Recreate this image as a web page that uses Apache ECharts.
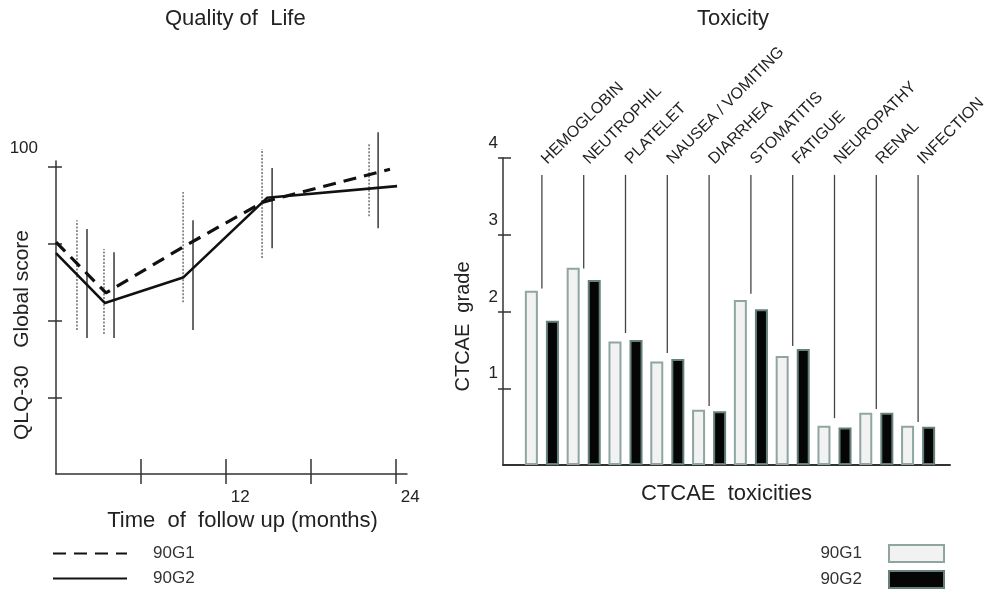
<!DOCTYPE html>
<html lang="en">
<head>
<meta charset="UTF-8">
<title>Quality of Life and Toxicity</title>
<script src="https://cdn.jsdelivr.net/npm/echarts@6/dist/echarts.min.js"></script>
<style>
  html, body { margin: 0; padding: 0; background: #fff; }
  #main { width: 985px; height: 590px; }
</style>
</head>
<body>
<div id="main"></div>
<script>
// Quality of life, global score: [month, score]
const qolG1 = [[0, 75.6], [3.53, 59], [8.98, 74], [14.63, 88.6], [23.6, 99.3]];
const qolG2 = [[0, 72], [3.46, 55.7], [8.98, 64], [14.91, 90], [24.1, 93.8]];
// error bars: [month, low, high]
const errG1 = [[1.48, 46.9, 82.7], [3.39, 45.6, 73.3], [8.98, 56.0, 91.9], [14.56, 70.4, 105.9], [22.12, 84.0, 107.5]];
const errG2 = [[2.19, 44.3, 79.8], [4.10, 44.3, 72.3], [9.68, 46.9, 82.7], [15.27, 73.6, 99.7], [22.76, 80.1, 111.4]];
const qolTicks = [6, 12, 18, 24];
const qolTickLabels = [12, 24];
const scoreTicks = [25, 50, 75, 100];
const scoreLabels = [100];

// Toxicity, CTCAE grade
const toxNames = ['HEMOGLOBIN', 'NEUTROPHIL', 'PLATELET', 'NAUSEA / VOMITING', 'DIARRHEA',
  'STOMATITIS', 'FATIGUE', 'NEUROPATHY', 'RENAL', 'INFECTION'];
const toxG1 = [2.27, 2.57, 1.61, 1.35, 0.72, 2.15, 1.42, 0.51, 0.68, 0.51];
const toxG2 = [1.88, 2.41, 1.63, 1.38, 0.70, 2.03, 1.51, 0.49, 0.68, 0.50];
const leaderEnd = [2.30, 2.56, 1.72, 1.46, 0.77, 2.23, 1.55, 0.61, 0.73, 0.56];
const gradeTicks = [1, 2, 3, 4];

const FONT = 'Liberation Sans, Arial, sans-serif';
const AX = '#333';
const LEADER_TOP = 3.78;
const LABEL_BASE = 3.88;

function errorBars(data, dotted) {
  return {
    type: 'custom',
    xAxisIndex: 0,
    yAxisIndex: 0,
    silent: true,
    z: 2,
    data: data,
    renderItem: function (params, api) {
      const lo = api.coord([api.value(0), api.value(1)]);
      const hi = api.coord([api.value(0), api.value(2)]);
      return {
        type: 'line',
        shape: { x1: lo[0], y1: lo[1], x2: hi[0], y2: hi[1] },
        style: {
          stroke: dotted ? '#666' : '#444',
          lineWidth: dotted ? 1.4 : 1.6,
          lineDash: dotted ? [2, 1.5] : null
        }
      };
    }
  };
}

const option = {
  animation: false,
  backgroundColor: '#fff',
  textStyle: { fontFamily: FONT },
  title: [
    { text: 'Quality of  Life', left: 160, top: 3,
      textStyle: { fontSize: 22, fontWeight: 'normal', color: '#222', fontFamily: FONT } },
    { text: 'Toxicity', left: 692, top: 3,
      textStyle: { fontSize: 22, fontWeight: 'normal', color: '#222', fontFamily: FONT } }
  ],
  legend: [
    {
      left: 52, top: 545, height: 60, orient: 'vertical', padding: 0,
      itemWidth: 74, itemHeight: 14, itemGap: 8,
      selectedMode: false,
      data: ['QoL 90G1', 'QoL 90G2'],
      formatter: n => n.split(' ')[1],
      itemStyle: { opacity: 0 },
      lineStyle: { width: 2 },
      textStyle: { fontSize: 17, color: '#333', padding: [0, 0, 0, 21], fontFamily: FONT }
    },
    {
      right: 40, top: 544, height: 60, orient: 'vertical', align: 'right', padding: 0,
      icon: 'rect', itemWidth: 55, itemHeight: 17, itemGap: 7,
      selectedMode: false,
      data: ['Tox 90G1', 'Tox 90G2'],
      formatter: n => n.split(' ')[1],
      textStyle: { fontSize: 17, color: '#333', padding: [0, 22, 0, 0], fontFamily: FONT }
    }
  ],
  grid: [
    { left: 56, top: 161, width: 351, height: 313, outerBoundsMode: 'none' },
    { left: 503, top: 158, width: 447, height: 307, outerBoundsMode: 'none' },
    { left: 521, top: 158, width: 418, height: 307, outerBoundsMode: 'none' }
  ],
  xAxis: [
    {
      gridIndex: 0, type: 'value', min: 0, max: 24.8, interval: 6, offset: 3, position: 'bottom',
      axisLine: { show: true, lineStyle: { color: AX, width: 1.5 } },
      axisTick: { show: true, length: 10, customValues: qolTicks, lineStyle: { color: AX, width: 1.5 } },
      axisLabel: { customValues: qolTickLabels, align: 'left', margin: 12, padding: [0, 0, 0, 5],
        fontSize: 17, color: '#222', fontFamily: FONT },
      splitLine: { show: false },
      name: 'Time  of  follow up (months)', nameLocation: 'middle', nameGap: 33, nameMoveOverlap: false,
      nameTextStyle: { fontSize: 22, color: '#222', padding: [0, 0, 0, 22], fontFamily: FONT }
    },
    {
      gridIndex: 0, type: 'value', min: 0, max: 24.8, interval: 6, offset: 3, position: 'bottom',
      axisLine: { show: false },
      axisTick: { show: true, inside: true, length: 15, customValues: qolTicks, lineStyle: { color: AX, width: 1.5 } },
      axisLabel: { show: false },
      splitLine: { show: false }
    },
    {
      gridIndex: 1, type: 'value', min: 0, max: 1, offset: 3, position: 'bottom',
      axisLine: { show: true, lineStyle: { color: AX, width: 2 } },
      axisTick: { show: false },
      axisLabel: { show: false },
      splitLine: { show: false },
      name: 'CTCAE  toxicities', nameLocation: 'middle', nameGap: 15, nameMoveOverlap: false,
      nameTextStyle: { fontSize: 22, color: '#222', fontFamily: FONT }
    },
    { gridIndex: 2, type: 'category', data: toxNames, show: false }
  ],
  yAxis: [
    {
      gridIndex: 0, type: 'value', min: 0, max: 102, interval: 25, position: 'left',
      axisLine: { show: true, lineStyle: { color: AX, width: 1.5 } },
      axisTick: { show: true, length: 8, customValues: scoreTicks, lineStyle: { color: AX, width: 1.5 } },
      axisLabel: { customValues: scoreLabels, margin: 18, verticalAlign: 'bottom', padding: [0, 0, 10, 0],
        fontSize: 17, color: '#222', fontFamily: FONT },
      splitLine: { show: false },
      name: 'QLQ-30   Global score', nameLocation: 'middle', nameGap: 23, nameMoveOverlap: false,
      nameTextStyle: { fontSize: 21, color: '#222', padding: [0, 35, 0, 0], fontFamily: FONT }
    },
    {
      gridIndex: 0, type: 'value', min: 0, max: 102, interval: 25, position: 'left',
      axisLine: { show: false },
      axisTick: { show: true, inside: true, length: 6, customValues: scoreTicks, lineStyle: { color: AX, width: 1.5 } },
      axisLabel: { show: false },
      splitLine: { show: false }
    },
    {
      gridIndex: 1, type: 'value', min: 0, max: 4, interval: 1, position: 'left',
      axisLine: { show: true, lineStyle: { color: AX, width: 1.5 } },
      axisTick: { show: true, length: 5, customValues: gradeTicks, lineStyle: { color: AX, width: 1.5 } },
      axisLabel: { customValues: gradeTicks, margin: 5, verticalAlign: 'bottom', padding: [0, 0, 6, 0],
        fontSize: 17, color: '#222', fontFamily: FONT },
      splitLine: { show: false },
      name: 'CTCAE  grade', nameLocation: 'middle', nameGap: 30, nameMoveOverlap: false,
      nameTextStyle: { fontSize: 20, color: '#222', padding: [0, 30, 0, 0], fontFamily: FONT }
    },
    {
      gridIndex: 1, type: 'value', min: 0, max: 4, interval: 1, position: 'left',
      axisLine: { show: false },
      axisTick: { show: true, inside: true, length: 8, customValues: gradeTicks, lineStyle: { color: AX, width: 1.5 } },
      axisLabel: { show: false },
      splitLine: { show: false }
    },
    { gridIndex: 2, type: 'value', min: 0, max: 4, show: false }
  ],
  series: [
    errorBars(errG1, true),
    errorBars(errG2, false),
    {
      name: 'QoL 90G1', type: 'line', xAxisIndex: 0, yAxisIndex: 0, data: qolG1,
      symbol: 'none', z: 3, silent: true,
      lineStyle: { color: '#111', width: 3.2, type: [13, 8] }
    },
    {
      name: 'QoL 90G2', type: 'line', xAxisIndex: 0, yAxisIndex: 0, data: qolG2,
      symbol: 'none', z: 3, silent: true,
      lineStyle: { color: '#111', width: 2.6 }
    },
    {
      name: 'Tox 90G1', type: 'bar', xAxisIndex: 3, yAxisIndex: 4, data: toxG1,
      barWidth: 13, barGap: '62%', silent: true,
      itemStyle: { color: '#f1f2f1', borderColor: '#8ea5a2', borderWidth: 2 }
    },
    {
      name: 'Tox 90G2', type: 'bar', xAxisIndex: 3, yAxisIndex: 4, data: toxG2,
      barWidth: 13, barGap: '62%', silent: true,
      itemStyle: { color: '#050505', borderColor: '#66807c', borderWidth: 2 }
    },
    {
      type: 'custom', xAxisIndex: 3, yAxisIndex: 4, silent: true,
      data: leaderEnd.map((v, i) => [i, v]),
      renderItem: function (params, api) {
        const bottom = api.coord([api.value(0), api.value(1)]);
        const top = api.coord([api.value(0), LEADER_TOP]);
        const anchor = api.coord([api.value(0), LABEL_BASE]);
        return {
          type: 'group',
          children: [
            {
              type: 'line',
              shape: { x1: bottom[0], y1: bottom[1], x2: top[0], y2: top[1] },
              style: { stroke: '#444', lineWidth: 1.3 }
            },
            {
              type: 'text',
              x: anchor[0] + 8,
              y: anchor[1],
              rotation: Math.PI / 4,
              style: {
                text: toxNames[params.dataIndex],
                x: 0, y: 0,
                align: 'left', verticalAlign: 'bottom',
                fontSize: 16, fill: '#222', fontFamily: FONT
              }
            }
          ]
        };
      }
    }
  ]
};

const chart = echarts.init(document.getElementById('main'));
chart.setOption(option);
</script>
</body>
</html>
